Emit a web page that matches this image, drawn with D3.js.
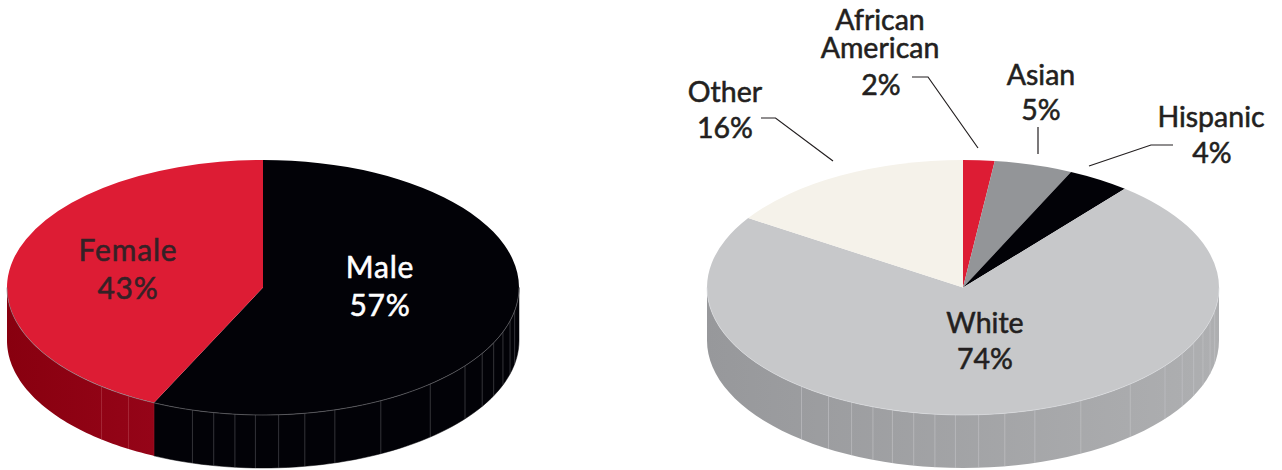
<!DOCTYPE html>
<html>
<head>
<meta charset="utf-8">
<script src="https://cdn.jsdelivr.net/npm/d3@7"></script>
<style>
  html, body { margin: 0; background: #fff; }
  svg { display: block; }
  text { font-family: Lato, sans-serif; font-weight: 400; font-size: 28.5px; text-anchor: middle; fill: #231f20; stroke-width: 0.55px; }
  text.big { font-size: 30px; letter-spacing: 0.8px; }
</style>
</head>
<body>
<svg id="chart" width="1282" height="470"></svg>
<script>
// values (the race shares add up to 101, as printed)
const genderLabels = ['Male', 'Female'];
const genderValues = [57, 43];
const raceLabels = ['African American', 'Asian', 'Hispanic', 'White', 'Other'];
const raceValues = [2, 5, 4, 74, 16];

// vertical seams on the rim, degrees clockwise from 12 o'clock
const raceSeams = [100.6, 105.2, 110.4, 115.7, 121.1, 127.9, 139.2, 152.6, 163.7, 170.6,
                   176.5, 181.7, 186.3, 191.1, 196, 200.6, 205.8, 211.7, 219.1];
const genderSeams = raceSeams.filter(d => d !== 200.6 && d !== 205.8).concat([205.2]);

const RX = 256, RY = 127.5, DEPTH = 53, CY = 287.5;
const rad = d => d * Math.PI / 180;
const svg = d3.select('#chart');
const defs = svg.append('defs');

function wallGradient(id, from, to) {
  const g = defs.append('linearGradient').attr('id', id);
  g.append('stop').attr('offset', 0).attr('stop-color', from);
  g.append('stop').attr('offset', 1).attr('stop-color', to);
  return `url(#${id})`;
}

const topRed = '#dd1c34', black = '#020207';
const wallRed = wallGradient('wall-red', '#88000f', '#950418');
const wallGrey = wallGradient('wall-grey', '#97989b', '#aeafb1');

function drawPie(cx, labels, values, topColors, wallColors, seams, seamColor, rimColor) {
  const x = d3.scaleLinear().domain([-1, 1]).range([cx - RX, cx + RX]);
  const y = d3.scaleLinear().domain([-1, 1]).range([CY - RY, CY + RY]);
  const px = a => x(Math.sin(a));
  const py = a => y(-Math.cos(a));

  const slices = d3.pie().sort(null).value(d => d)(values);
  const rim = d3.line().x(px).y(py);
  const rimLow = d3.line().x(px).y(a => py(a) + DEPTH);
  const front = s => [Math.max(s.startAngle, rad(90)), Math.min(s.endAngle, rad(270))];

  // rim walls, only what faces the viewer
  const walls = svg.append('g').attr('class', 'walls');
  slices.forEach((s, i) => {
    const [a0, a1] = front(s);
    if (a1 <= a0) return;
    const angles = d3.range(0, 61).map(k => a0 + (a1 - a0) * k / 60);
    const upper = rim(angles);
    const lower = rimLow(angles.slice().reverse());
    walls.append('path')
      .attr('d', upper + 'L' + lower.slice(1) + 'Z')
      .attr('fill', wallColors[i])
      .attr('stroke', wallColors[i] === black ? black : 'none')
      .attr('stroke-width', 0.5);
  });

  walls.selectAll('line')
    .data(seams)
    .join('line')
      .attr('x1', d => px(rad(d))).attr('x2', d => px(rad(d)))
      .attr('y1', d => py(rad(d))).attr('y2', d => py(rad(d)) + DEPTH)
      .attr('stroke', d => seamColor(d))
      .attr('stroke-width', 0.6);

  // top face
  const arc = d3.arc().innerRadius(0).outerRadius(RX);
  svg.append('g')
    .attr('transform', `translate(${cx},${CY}) scale(1,${RY / RX})`)
    .selectAll('path')
    .data(slices)
    .join('path')
      .attr('d', arc)
      .attr('fill', (d, i) => topColors[i]);

  // thin highlight where the top meets the rim
  slices.forEach(s => {
    const [a0, a1] = front(s);
    if (a1 <= a0) return;
    const angles = d3.range(0, 61).map(k => a0 + (a1 - a0) * k / 60);
    svg.append('path')
      .attr('d', rim(angles))
      .attr('fill', 'none')
      .attr('stroke', rimColor)
      .attr('stroke-width', 0.6);
  });
}

drawPie(263, genderLabels, genderValues,
  [black, topRed], [black, wallRed], genderSeams,
  d => d < 205.2 ? '#55565a' : d === 205.2 ? '#a01c2c' : '#b3404e',
  '#77777c');

drawPie(963, raceLabels, raceValues,
  [topRed, '#939598', black, '#c7c8ca', '#f5f2ea'],
  ['#8a0013', '#777', black, wallGrey, '#b5b2aa'], raceSeams,
  () => '#c4c5c7',
  '#dcdde0');

// labels, one entry per text line
const textLines = [
  ['Male', 380, 278, '#fff', 'big'], ['57%', 380, 316, '#fff', 'big'],
  ['Female', 128, 261, '#352126', 'big'], ['43%', 128, 299, '#352126', 'big'],
  ['White', 985, 333], ['74%', 985, 369],
  ['Other', 725, 102], ['16%', 725, 138],
  ['African', 880, 30], ['American', 880, 58], ['2%', 881, 95],
  ['Asian', 1041, 85], ['5%', 1041, 120],
  ['Hispanic', 1211, 127], ['4%', 1212, 163]
];
svg.append('g').selectAll('text')
  .data(textLines)
  .join('text')
    .attr('class', d => d[4] || null)
    .attr('x', d => d[1]).attr('y', d => d[2])
    .style('fill', d => d[3] || '#231f20')
    .style('stroke', d => d[3] || '#231f20')
    .text(d => d[0]);

// leader lines
const leaders = [
  [[761, 118], [775.5, 118], [833, 161]],
  [[912, 77], [928, 77], [978, 148]],
  [[1038, 127], [1038, 154]],
  [[1173, 145], [1151, 145], [1089, 166]]
];
svg.append('g').selectAll('path')
  .data(leaders)
  .join('path')
    .attr('d', d3.line())
    .attr('fill', 'none')
    .attr('stroke', '#231f20')
    .attr('stroke-width', 1.2);
</script>
</body>
</html>
